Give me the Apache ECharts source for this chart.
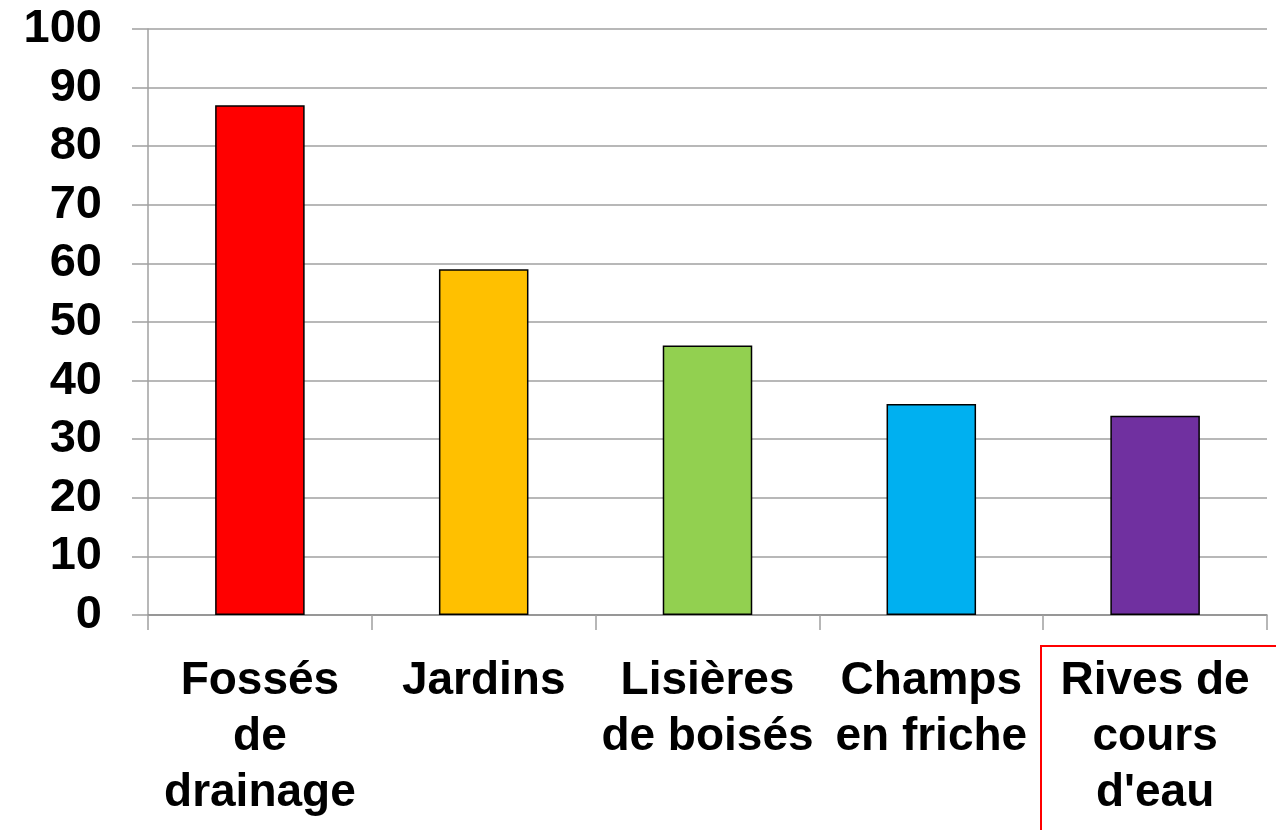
<!DOCTYPE html>
<html>
<head>
<meta charset="utf-8">
<script src="https://cdn.jsdelivr.net/npm/echarts@6/dist/echarts.min.js"></script>
<style>
  html, body { margin: 0; padding: 0; background: #fff; }
  #main { width: 1276px; height: 830px; }
</style>
</head>
<body>
<div id="main"></div>
<script>
// categories and values
var categories = ['Fossés\nde\ndrainage', 'Jardins', 'Lisières\nde boisés', 'Champs\nen friche', 'Rives de\ncours\nd\'eau'];
var values = [87, 59, 46, 36, 34];
var barColors = ['#FF0000', '#FFC000', '#92D050', '#00B0F0', '#7030A0'];

var chart = echarts.init(document.getElementById('main'));

chart.setOption({
  animation: false,
  backgroundColor: '#fff',
  grid: { left: 148, right: 9, top: 29, bottom: 215, containLabel: false },
  xAxis: {
    type: 'category',
    data: categories,
    axisLine: { lineStyle: { color: '#8c8c8c', width: 1.5 } },
    axisTick: { show: true, length: 15, alignWithLabel: false, lineStyle: { color: '#a0a0a0', width: 1.5 } },
    axisLabel: {
      interval: 0,
      margin: 38,
      color: '#000',
      fontFamily: 'Liberation Sans, Arial, sans-serif',
      fontWeight: 'bold',
      fontSize: 46,
      lineHeight: 56,
      verticalAlign: 'top'
    }
  },
  yAxis: {
    type: 'value',
    min: 0,
    max: 100,
    interval: 10,
    axisLine: { show: true, lineStyle: { color: '#a0a0a0', width: 1.5 } },
    axisTick: { show: true, length: 16, lineStyle: { color: '#a0a0a0', width: 1.5 } },
    splitLine: { show: true, lineStyle: { color: '#a0a0a0', width: 1.5 } },
    axisLabel: {
      margin: 46,
      color: '#000',
      fontFamily: 'Liberation Sans, Arial, sans-serif',
      fontWeight: 'bold',
      fontSize: 47
    }
  },
  series: [{
    type: 'bar',
    barWidth: '40%',
    data: values.map(function (v, i) {
      return { value: v, itemStyle: { color: barColors[i] } };
    }),
    itemStyle: { borderColor: '#000', borderWidth: 1.5 }
  }],
  graphic: [{
    type: 'rect',
    shape: { x: 1041, y: 646, width: 260, height: 220 },
    style: { fill: 'none', stroke: '#FF0000', lineWidth: 2 }
  }]
});
</script>
</body>
</html>
